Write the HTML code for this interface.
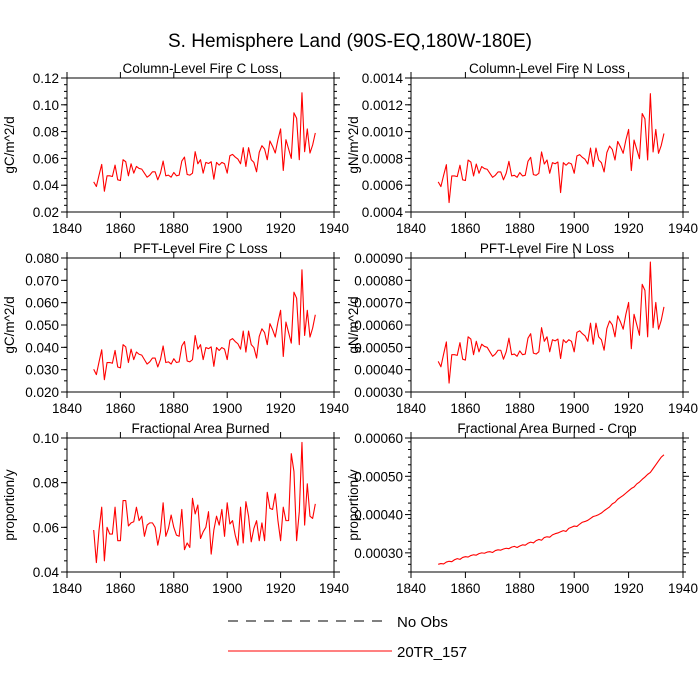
<!DOCTYPE html>
<html><head><meta charset="utf-8"><style>
html,body{margin:0;padding:0;background:#fff;}
svg{display:block;font-family:"Liberation Sans",Arial,sans-serif;}
</style></head><body>
<svg id="chart" width="700" height="700" viewBox="0 0 700 700">
<text x="350" y="47" text-anchor="middle" font-size="19">S. Hemisphere Land (90S-EQ,180W-180E)</text>
<g id="panels"></g>
<g>
<line x1="228" y1="621" x2="390" y2="621" stroke="#000" stroke-width="1" stroke-dasharray="10,8"/>
<text x="397" y="627" font-size="15">No Obs</text>
<line x1="228" y1="651" x2="392" y2="651" stroke="#f00" stroke-width="1"/>
<text x="397" y="657" font-size="15">20TR_157</text>
</g>
</svg>
<script>
const startYear = 1850;
const xTicks = [1840,1860,1880,1900,1920,1940];
const colC = [0.0425,0.039,0.0475,0.0555,0.0355,0.047,0.047,0.0465,0.055,0.044,
0.0435,0.059,0.0575,0.047,0.056,0.049,0.054,0.0525,0.052,0.049,
0.046,0.0475,0.05,0.05,0.044,0.049,0.058,0.047,0.0475,0.046,
0.0495,0.047,0.0475,0.058,0.061,0.048,0.0475,0.049,0.065,0.056,
0.059,0.049,0.057,0.0562,0.0575,0.0445,0.057,0.055,0.057,0.056,
0.049,0.062,0.063,0.061,0.0595,0.056,0.068,0.054,0.068,0.059,0.057,
0.05,0.0645,0.0695,0.067,0.059,0.073,0.069,0.064,0.074,0.082,0.051,0.074,0.067,0.06,0.094,0.09,0.059,0.109,
0.065,0.082,0.064,0.07,0.079];
const colN = [6.25,5.90,6.74,7.53,4.70,6.69,6.69,6.64,7.49,6.40,
6.35,7.88,7.73,6.69,7.58,6.89,7.39,7.24,7.19,6.89,
6.59,6.74,6.99,6.99,6.40,6.89,7.78,6.69,6.74,6.59,
6.94,6.69,6.74,7.78,8.08,6.79,6.74,6.89,8.48,7.58,
7.88,6.89,7.68,7.60,7.73,5.45,7.68,7.49,7.68,7.58,
6.89,8.18,8.28,8.08,7.93,7.58,8.77,7.39,8.77,7.88,7.68,
6.99,8.43,8.92,8.67,7.88,9.27,8.87,8.38,9.37,10.16,7.09,9.37,8.67,7.98,11.35,10.95,7.88,12.83,
8.48,10.16,8.38,8.97,9.86];
const pftC = [0.0302,0.0278,0.0335,0.0389,0.0255,0.0332,0.0332,0.0329,0.0386,0.0312,
0.0308,0.0412,0.0402,0.0332,0.0392,0.0345,0.0379,0.0369,0.0365,0.0345,
0.0325,0.0335,0.0352,0.0352,0.0312,0.0345,0.0406,0.0332,0.0335,0.0325,
0.0349,0.0332,0.0335,0.0406,0.0426,0.0339,0.0335,0.0345,0.0453,0.0392,
0.0412,0.0345,0.0399,0.0394,0.0402,0.0315,0.0399,0.0386,0.0399,0.0392,
0.0345,0.0432,0.0439,0.0426,0.0416,0.0392,0.0473,0.0379,0.0473,0.0412,0.0399,
0.0352,0.0449,0.0483,0.0466,0.0412,0.0506,0.0479,0.0446,0.0513,0.0566,0.0359,0.0513,0.0466,0.0419,0.0647,0.0620,0.0412,0.0747,
0.0453,0.0566,0.0446,0.0486,0.0546];
const pftN = [4.37,4.13,4.70,5.24,3.40,4.67,4.67,4.64,5.21,4.47,
4.43,5.47,5.37,4.67,5.27,4.80,5.14,5.04,5.00,4.80,
4.60,4.70,4.87,4.87,4.47,4.80,5.41,4.67,4.70,4.60,
4.84,4.67,4.70,5.41,5.61,4.74,4.70,4.80,5.88,5.27,
5.47,4.80,5.34,5.29,5.37,4.50,5.34,5.21,5.34,5.27,
4.80,5.67,5.74,5.61,5.51,5.27,6.08,5.14,6.08,5.47,5.34,
4.87,5.84,6.18,6.01,5.47,6.41,6.14,5.81,6.48,7.01,4.94,6.48,6.01,5.54,7.82,7.55,5.47,8.82,
5.88,7.01,5.81,6.21,6.81];
const fracArea = [0.0588,0.0442,0.0588,0.069,0.045,0.060,0.057,0.057,0.069,0.054,
0.054,0.072,0.072,0.0606,0.062,0.0625,0.069,0.063,0.065,0.056,
0.061,0.062,0.062,0.060,0.052,0.058,0.071,0.056,0.0595,0.0655,0.060,
0.0565,0.056,0.068,0.050,0.053,0.051,0.073,0.066,0.070,0.055,
0.058,0.060,0.067,0.048,0.0588,0.065,0.061,0.068,0.056,0.071,
0.0615,0.063,0.0565,0.052,0.069,0.053,0.0715,0.065,0.0535,0.0595,
0.063,0.054,0.062,0.054,0.0757,0.0685,0.068,0.075,0.063,0.054,
0.069,0.063,0.063,0.093,0.085,0.054,0.067,0.098,0.061,0.0795,0.065,0.064,0.0705];
const fracCrop = [2.70,2.72,2.71,2.76,2.78,2.77,2.82,2.85,2.83,2.88,
2.90,2.89,2.93,2.95,2.94,2.98,3.00,2.99,3.02,3.03,
3.01,3.06,3.08,3.07,3.10,3.12,3.11,3.15,3.17,3.14,
3.18,3.21,3.20,3.25,3.28,3.26,3.32,3.35,3.33,3.40,
3.42,3.41,3.47,3.50,3.52,3.55,3.58,3.56,3.64,3.67,
3.70,3.69,3.75,3.80,3.82,3.85,3.90,3.95,3.97,4.00,
4.04,4.10,4.15,4.20,4.28,4.32,4.40,4.45,4.50,4.56,
4.62,4.68,4.72,4.80,4.85,4.92,4.98,5.05,5.10,5.20,
5.30,5.40,5.50,5.56];
const colCTicks = ["0.02","0.04","0.06","0.08","0.10","0.12"];
const colNTicks = ["0.0004","0.0006","0.0008","0.0010","0.0012","0.0014"];
const pftCTicks = ["0.020","0.030","0.040","0.050","0.060","0.070","0.080"];
const pftNTicks = ["0.00030","0.00040","0.00050","0.00060","0.00070","0.00080","0.00090"];
const fracTicks = ["0.04","0.06","0.08","0.10"];
const cropTicks = ["0.00030","0.00040","0.00050","0.00060"];

const NS="http://www.w3.org/2000/svg";
const root=document.getElementById('panels');
function mk(tag,attrs,parent){const e=document.createElementNS(NS,tag);for(const k in attrs)e.setAttribute(k,attrs[k]);parent.appendChild(e);return e;}

function panel(cfg){
  const {x0,x1,y0,y1,ymin,ymax,minor,data,scale,ticks,title,ylabel,key}=cfg;
  const g=mk('g',{},root);
  
  
  const xs=v=>x0+(v-1840)/100*(x1-x0);
  const ys=v=>y1-(v-ymin)/(ymax-ymin)*(y1-y0);
  const fr=mk('rect',{x:x0,y:y0,width:x1-x0,height:y1-y0,fill:'none',stroke:'#000','stroke-width':1},g);
  
  
  // minor y ticks
  for(let v=ymin;v<=ymax+1e-12;v+=minor){
    const yy=ys(v);
    if(yy<y0-0.5) break;
    mk('line',{x1:x0-3,x2:x0,y1:yy,y2:yy,stroke:'#000','stroke-width':1},g);
    mk('line',{x1:x1,x2:x1+3,y1:yy,y2:yy,stroke:'#000','stroke-width':1},g);
  }
  ticks.forEach(t=>{
    const yy=ys(parseFloat(t));
    mk('line',{x1:x0-6,x2:x0,y1:yy,y2:yy,stroke:'#000','stroke-width':1},g);
    mk('line',{x1:x1,x2:x1+6,y1:yy,y2:yy,stroke:'#000','stroke-width':1},g);
    const tx=mk('text',{x:x0-8,y:yy+5,'text-anchor':'end','font-size':13.5},g);
    tx.textContent=t;
    
    
  });
  xTicks.forEach(t=>{
    const xx=xs(t);
    mk('line',{x1:xx,x2:xx,y1:y1,y2:y1+6,stroke:'#000','stroke-width':1},g);
    mk('line',{x1:xx,x2:xx,y1:y0-6,y2:y0,stroke:'#000','stroke-width':1},g);
    const tx=mk('text',{x:xx,y:y1+21,'text-anchor':'middle','font-size':13.5},g);
    tx.textContent=t;
    
    
  });
  const tt=mk('text',{x:(x0+x1)/2,y:y0-5,'text-anchor':'middle','font-size':13.5},g);
  tt.textContent=title;
  
  
  const yl=mk('text',{x:0,y:0,'text-anchor':'middle','font-size':13.5,transform:`translate(${x0-53},${(y0+y1)/2}) rotate(-90)`},g);
  yl.textContent=ylabel;
  
  
  const pts=data.map((v,i)=>xs(startYear+i).toFixed(2)+','+ys(v*scale).toFixed(2)).join(' ');
  const pl=mk('polyline',{points:pts,fill:'none',stroke:'#f00','stroke-width':1.1,'stroke-linejoin':'round'},g);
  
  
}
const L=[67,334], R=[411,683];
const rows=[[78,212],[258,392],[438,572]];
panel({key:'column-fire-c',x0:L[0],x1:L[1],y0:rows[0][0],y1:rows[0][1],ymin:0.02,ymax:0.12,minor:0.005,data:colC,scale:1,ticks:colCTicks,title:'Column-Level Fire C Loss',ylabel:'gC/m^2/d'});
panel({key:'column-fire-n',x0:R[0],x1:R[1],y0:rows[0][0],y1:rows[0][1],ymin:0.0004,ymax:0.0014,minor:0.00005,data:colN,scale:1e-4,ticks:colNTicks,title:'Column-Level Fire N Loss',ylabel:'gN/m^2/d'});
panel({key:'pft-fire-c',x0:L[0],x1:L[1],y0:rows[1][0],y1:rows[1][1],ymin:0.02,ymax:0.08,minor:0.005,data:pftC,scale:1,ticks:pftCTicks,title:'PFT-Level Fire C Loss',ylabel:'gC/m^2/d'});
panel({key:'pft-fire-n',x0:R[0],x1:R[1],y0:rows[1][0],y1:rows[1][1],ymin:0.0003,ymax:0.0009,minor:0.00005,data:pftN,scale:1e-4,ticks:pftNTicks,title:'PFT-Level Fire N Loss',ylabel:'gN/m^2/d'});
panel({key:'fractional-area',x0:L[0],x1:L[1],y0:rows[2][0],y1:rows[2][1],ymin:0.04,ymax:0.10,minor:0.005,data:fracArea,scale:1,ticks:fracTicks,title:'Fractional Area Burned',ylabel:'proportion/y'});
panel({key:'fractional-area-crop',x0:R[0],x1:R[1],y0:rows[2][0],y1:rows[2][1],ymin:0.00025,ymax:0.0006,minor:0.00002,data:fracCrop,scale:1e-4,ticks:cropTicks,title:'Fractional Area Burned - Crop',ylabel:'proportion/y'});
</script>
</body></html>
